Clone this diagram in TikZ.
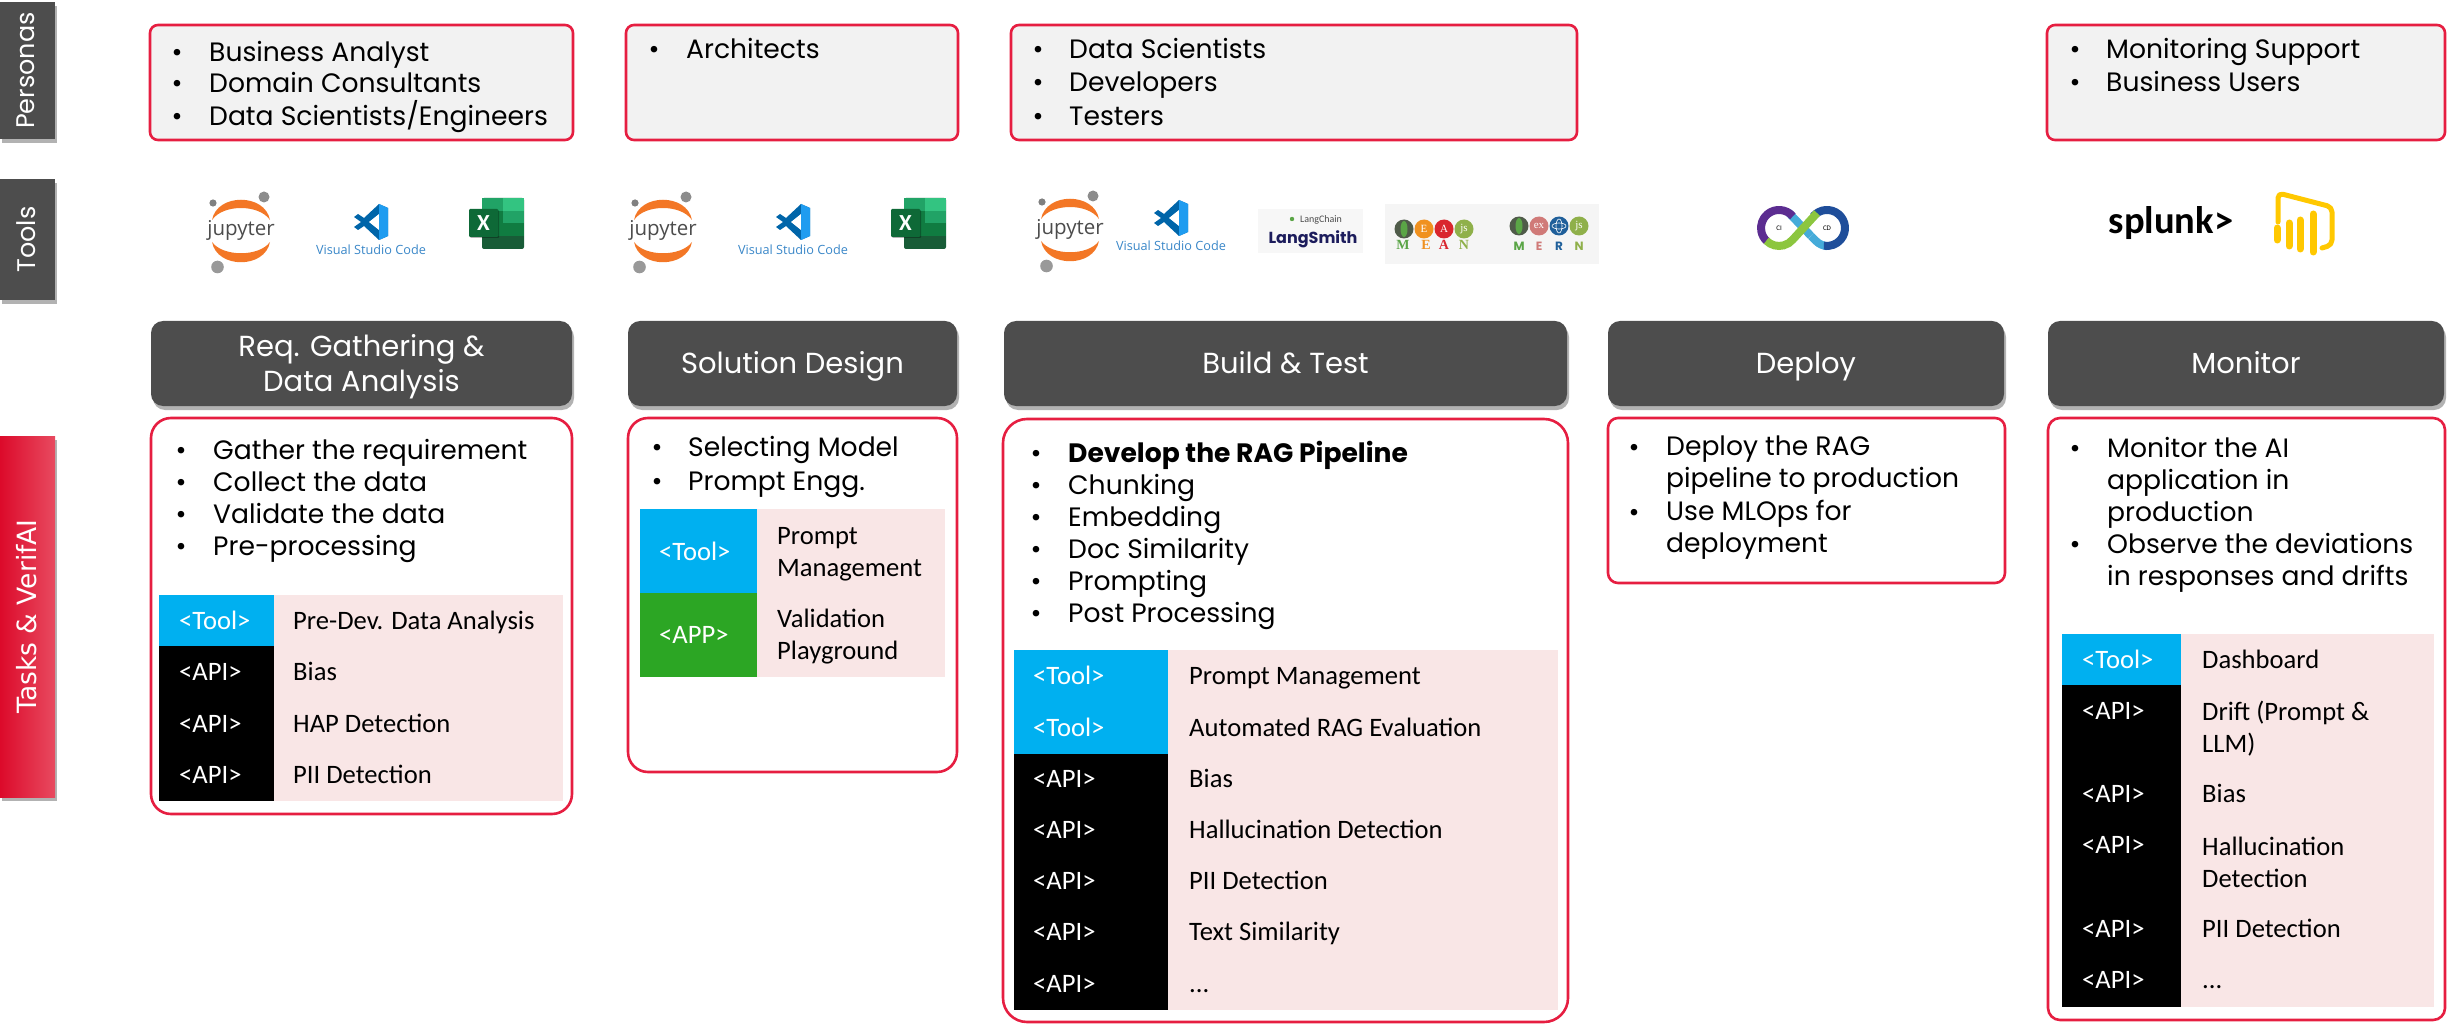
\documentclass[tikz,border=0pt]{standalone}
\usepackage{fontspec}
\setmainfont{Poppins}
\newfontfamily\tablefont{Carlito}
\newfontfamily\logofont{Open Sans}
\newfontfamily\meanfont{Liberation Serif}
\newfontfamily\tabfont{DejaVu Sans}
\usetikzlibrary{shadows}
\definecolor{tabgray}{HTML}{4D4D4D}
\definecolor{framered}{HTML}{E61E41}
\definecolor{tasktop}{HTML}{E84A60}
\definecolor{taskbottom}{HTML}{DC0A2A}
\definecolor{personafill}{HTML}{F2F2F2}
\definecolor{rowpink}{HTML}{F9E6E6}
\definecolor{toolblue}{HTML}{00B0F0}
\definecolor{appgreen}{HTML}{2CA624}
\definecolor{jupyorange}{HTML}{F37726}
\definecolor{biyellow}{HTML}{FFC800}
\definecolor{codedark}{HTML}{0065A9}
\definecolor{codelight}{HTML}{1F9CF0}
\definecolor{codetext}{HTML}{3A87C8}
\definecolor{xldark}{HTML}{185C37}
\definecolor{xlmid}{HTML}{107C41}
\definecolor{xlsoft}{HTML}{21A366}
\definecolor{xllight}{HTML}{33C481}
\definecolor{meanleaf}{HTML}{4F5B49}
\definecolor{leafgreen}{HTML}{5AA546}
\definecolor{meanorange}{HTML}{F0911F}
\definecolor{meanred}{HTML}{D9262E}
\definecolor{meanlime}{HTML}{8FB04A}
\definecolor{mernpink}{HTML}{D07A78}
\definecolor{mernblue}{HTML}{1F5F9A}
\definecolor{devpurple}{HTML}{5C2D91}
\definecolor{devnavy}{HTML}{1F4E9A}
\definecolor{devgreen}{HTML}{8CC63F}
\definecolor{devcyan}{HTML}{45ABD9}
\definecolor{smithnavy}{HTML}{1C1C5C}
\tikzset{
  softshadow/.style={drop shadow={shadow xshift=2pt, shadow yshift=-4pt, opacity=0.3, fill=black}},
  sidetab/.style={rotate=90, minimum height=55pt, inner sep=0pt, text=white, text depth=3pt, softshadow},
  headbox/.style={fill=tabgray, rounded corners=12pt, text=white, inner sep=0pt, minimum height=85pt, align=center,
    font=\fontsize{29}{35}\selectfont, softshadow},
  headline/.style={headbox, text height=26pt, text depth=7pt},
  personabox/.style={draw=framered, fill=personafill, line width=2.6pt, rounded corners=8pt},
  taskbox/.style={draw=framered, fill=white, line width=2.6pt},
  listdot/.style={inner sep=0pt, text height=24pt, text depth=6pt, font=\fontsize{26.6}{32}\selectfont},
  listtext/.style={anchor=west, inner sep=0pt, text height=24pt, text depth=6pt, font=\fontsize{26.6}{32}\selectfont},
  wraptext/.style={anchor=west, inner sep=0pt, align=left, yshift=-2.5pt, font=\fontsize{26.6}{32}\selectfont},
  rowlabel/.style={anchor=west, inner sep=0pt, text=white, text height=19pt, text depth=5pt, font=\tablefont\fontsize{26.6}{32}\selectfont},
  rowtext/.style={anchor=west, inner sep=0pt, text height=19pt, text depth=5pt, font=\tablefont\fontsize{26.6}{32}\selectfont},
  rowwrap/.style={anchor=west, inner sep=0pt, align=left, yshift=-1pt, font=\tablefont\fontsize{26.6}{32}\selectfont},
  pics/jupyterlogo/.style={code={
    \fill[jupyorange] (-29,-10) .. controls (-24,-37) and (24,-37) .. (29,-10) .. controls (18,-26) and (-18,-26) .. cycle;
    \fill[jupyorange] (-29,12) .. controls (-24,39) and (24,39) .. (29,12) .. controls (18,27) and (-18,27) .. cycle;
    \fill[gray!90] (23,-33) circle [radius=5.5];
    \fill[gray] (-28,-27) circle [radius=3.6];
    \fill[gray!80] (-23.5,37) circle [radius=6.3];
    \node[inner sep=0pt, text=black!70, font=\logofont\fontsize{20.5}{22}\selectfont] (txt) at (0,0) {jupyter};
  }},
  pics/vscodelogo/.style={code={
    \fill[codedark] (8,-18) -- (-7,-4) -- (-13,-8) -- (-17,-5) -- (-10,0) -- (-17,5) -- (-13,8) -- (-7,4) -- (8,18) -- (17,14) -- (17,-14) -- cycle;
    \fill[white] (8,-8) -- (-2,0) -- (8,8) -- cycle;
    \fill[codelight] (8,-18) -- (17,-14) -- (17,14) -- (8,18) -- (8,8) -- (8,-8) -- cycle;
    \node[inner sep=0pt, text=codetext, font=\logofont\fontsize{12.7}{13}\selectfont] (txt) at (0,28) {Visual Studio Code};
  }},
  pics/excellogo/.style={code={
    \fill[rounded corners=2pt, xldark] (13,0) rectangle (55,51);
    \fill[xlmid] (13,25) rectangle (55,38);
    \fill[xlsoft] (34,13) rectangle (55,25);
    \fill[xlmid] (13,13) rectangle (34,25);
    \fill[xlsoft] (13,0) rectangle (34,13);
    \fill[xllight] (34,0) rectangle (55,13);
    \fill[rounded corners=1pt, xlmid!85!black, drop shadow={shadow xshift=1pt, shadow yshift=-1pt, opacity=0.3, fill=black}] (0,11) rectangle (29,39);
    \node[inner sep=0pt, text=white, font=\tablefont\bfseries\fontsize{23}{23}\selectfont] (txt) at (14.5,25) {X};
  }},
  devband/.style={line width=8pt},
  pics/devopslogo/.style={code={
    % rings, left one first
    \draw[devband, devcyan] (-15,-16) -- (8,8);
    \draw[devband, devcyan] (8,8) -- (13,13) arc [start angle=135, end angle=95, radius=18];
    \draw[devband, devnavy] (10.2,-11.6) arc [start angle=-140, end angle=100, radius=18];
    \draw[devband, devpurple] (-10.2,-11.6) arc [start angle=-40, end angle=-228, radius=18];
    \draw[devband, devgreen] (-36.7,12.7) arc [start angle=135, end angle=40, radius=18] -- (14,-15);
    \node[inner sep=0pt, font=\tablefont\fontsize{7}{7}\selectfont] (ci) at (-24,0) {CI};
    \node[inner sep=0pt, font=\tablefont\fontsize{7}{7}\selectfont] (cd) at (24,0) {CD};
  }},
  pics/powerbilogo/.style={code={
    \draw[biyellow, line width=5pt, line cap=round, line join=round, rounded corners=5pt] (0,33) -- (0,4) -- (54,18) -- (54,56) -- (44,59);
    \foreach \xbar/\ytop/\ybot in {-1/36/54, 11/31/60, 22/28/63, 35/22/66} {
      \draw[biyellow, line width=7pt, line cap=round] (\xbar,\ytop+3) -- (\xbar,\ybot-3);
    }
  }}
}
\begin{document}
\begin{tikzpicture}[x=1pt, y=-1pt]
  \useasboundingbox (0,0) rectangle (2458,1024);
  % side tabs
  \node[sidetab, fill=tabgray, minimum width=137pt, font=\fontsize{25.5}{28}\selectfont] (personas) at (27.5,70.5) {Personas};
  \node[sidetab, fill=tabgray, minimum width=121pt, font=\fontsize{25.5}{28}\selectfont] (tools) at (27.5,239.5) {Tools};
  \node[sidetab, left color=taskbottom, right color=tasktop, minimum width=361pt, font=\tabfont\fontsize{26.5}{28}\selectfont] (tasks) at (27.5,616.5) {Tasks \& VerifAI};
  % personas row
  \draw[personabox] (150,25) rectangle (573,140);
  \draw[personabox] (626,25) rectangle (958,140);
  \draw[personabox] (1011,25) rectangle (1577,140);
  \draw[personabox] (2047,25) rectangle (2445,140);
  \foreach \i/\ypos/\txt in {1/53/Business Analyst, 2/84/Domain Consultants, 3/117/{Data Scientists/Engineers}} {
    \node[listdot] (pad\i) at (177,\ypos) {•};
    \node[listtext] (pat\i) at (209,\ypos) {\txt};
  }
  \node[listdot] (pbd1) at (654,50) {•};
  \node[listtext] (pbt1) at (686,50) {Architects};
  \foreach \i/\ypos/\txt in {1/50/Data Scientists, 2/83/Developers, 3/117/Testers} {
    \node[listdot] (pcd\i) at (1038,\ypos) {•};
    \node[listtext] (pct\i) at (1069,\ypos) {\txt};
  }
  \foreach \i/\ypos/\txt in {1/50/Monitoring Support, 2/83/Business Users} {
    \node[listdot] (ped\i) at (2075,\ypos) {•};
    \node[listtext] (pet\i) at (2106,\ypos) {\txt};
  }
  % tools row
  \pic (jupa) at (241,230) {jupyterlogo};
  \pic (vsa) at (371,222) {vscodelogo};
  \pic (xla) at (469,198) {excellogo};
  \pic (jupb) at (663,230) {jupyterlogo};
  \pic (vsb) at (793,222) {vscodelogo};
  \pic (xlb) at (891,198) {excellogo};
  \pic (jupc) at (1070,229) {jupyterlogo};
  \pic (vsc) at (1171,218) {vscodelogo};
  % langsmith
  \fill[black!3] (1258,209) rectangle (1363,253);
  \fill[leafgreen] (1292,219) circle [radius=2.2];
  \node[inner sep=0pt, text=black!70, font=\tablefont\fontsize{10}{10}\selectfont] (langchain) at (1321,220) {LangChain};
  \node[inner sep=0pt, text=smithnavy, font=\bfseries\fontsize{16}{16}\selectfont] (langsmith) at (1313,239) {LangSmith};
  % mean and mern
  \fill[black!4] (1385,204) rectangle (1599,264);
  \foreach \name/\xpos/\col/\lab in {ma/1404/meanleaf/{}, ea/1424/meanorange/E, aa/1444/meanred/A, na/1464/meanlime/{js}} {
    \node[circle, fill=\col, minimum size=19pt, inner sep=0pt, text=white, font=\meanfont\fontsize{11}{11}\selectfont] (\name) at (\xpos,229) {\lab};
  }
  \foreach \name/\xpos/\col/\lab in {mb/1519/meanleaf/{}, eb/1539/mernpink/{ex}, rb/1559/mernblue/{}, nb/1579/meanlime/{js}} {
    \node[circle, fill=\col, minimum size=19pt, inner sep=0pt, text=white, font=\meanfont\fontsize{11}{11}\selectfont] (\name) at (\xpos,226) {\lab};
  }
  \fill[leafgreen] (ma) ellipse [x radius=3.5, y radius=8];
  \fill[leafgreen] (mb) ellipse [x radius=3.5, y radius=8];
  \draw[white, line width=0.6pt] (rb) ellipse [x radius=7, y radius=3];
  \draw[white, line width=0.6pt] (rb) ellipse [x radius=3, y radius=7];
  \foreach \name/\xpos/\col/\lab in {lma/1403/leafgreen/M, lea/1426/meanorange/E, laa/1444/meanred/A, lna/1464/meanlime/N} {
    \node[inner sep=0pt, text=\col, font=\meanfont\bfseries\fontsize{14}{14}\selectfont] (\name) at (\xpos,245) {\lab};
  }
  \foreach \name/\xpos/\col/\lab in {lmb/1519/leafgreen/M, leb/1539/mernpink/E, lrb/1559/mernblue/R, lnb/1579/meanlime/N} {
    \node[inner sep=0pt, text=\col, font=\bfseries\fontsize{12}{12}\selectfont] (\name) at (\xpos,246) {\lab};
  }
  \pic (devops) at (1803,228) {devopslogo};
  \node[inner sep=0pt, font=\tablefont\bfseries\fontsize{38.5}{39}\selectfont] (splunk) at (2171,223) {splunk>};
  \pic (bi) at (2278,189) {powerbilogo};
  % phase headers
  \node[headbox, minimum width=421pt] (reqhead) at (361.5,363.5) {};
  \node[inner sep=0pt, text=white, align=center, font=\fontsize{29}{35}\selectfont] (reqtitle) at (361.5,367) {Req. Gathering \&\\Data Analysis};
  \node[headline, minimum width=329pt] (solhead) at (792.5,363.5) {Solution Design};
  \node[headline, minimum width=563pt] (buildhead) at (1285.5,363.5) {Build \& Test};
  \node[headline, minimum width=396pt] (dephead) at (1806,363.5) {Deploy};
  \node[headline, minimum width=396pt] (monhead) at (2246,363.5) {Monitor};
  % task frames
  \draw[taskbox, rounded corners=20pt] (151,418) rectangle (572,814);
  \draw[taskbox, rounded corners=20pt] (628,418) rectangle (957,772);
  \draw[taskbox, rounded corners=24pt] (1003,419) rectangle (1568,1022);
  \draw[taskbox, rounded corners=10pt] (1608,418) rectangle (2005,583);
  \draw[taskbox, rounded corners=12pt] (2048,418) rectangle (2445,1020);
  % req gathering
  \foreach \i/\ypos/\txt in {1/450/Gather the requirement, 2/482/Collect the data, 3/514/Validate the data, 4/546/Pre-processing} {
    \node[listdot] (rd\i) at (181,\ypos) {•};
    \node[listtext] (rt\i) at (213,\ypos) {\txt};
  }
  \fill[rowpink] (274,595) rectangle (563,801);
  \fill[toolblue] (159,595) rectangle (274,646);
  \fill[black] (159,646) rectangle (274,801);
  \node[rowlabel] (rl1) at (179,622) {<Tool>};
  \node[rowtext] (rr1) at (293,622) {Pre-Dev. Data Analysis};
  \foreach \i/\ypos/\txt in {2/673/Bias, 3/725/HAP Detection, 4/776/PII Detection} {
    \node[rowlabel] (rl\i) at (179,\ypos) {<API>};
    \node[rowtext] (rr\i) at (293,\ypos) {\txt};
  }
  % solution design
  \foreach \i/\ypos/\txt in {1/447/Selecting Model, 2/481/Prompt Engg.} {
    \node[listdot] (sd\i) at (657,\ypos) {•};
    \node[listtext] (st\i) at (688,\ypos) {\txt};
  }
  \fill[rowpink] (757,509) rectangle (945,677);
  \fill[toolblue] (640,509) rectangle (757,593);
  \fill[appgreen] (640,593) rectangle (757,677);
  \node[rowlabel] (sl1) at (659,553) {<Tool>};
  \node[rowwrap] (sr1) at (777,553) {Prompt\\Management};
  \node[rowlabel] (sl2) at (659,636) {<APP>};
  \node[rowwrap] (sr2) at (777,636) {Validation\\Playground};
  % build and test
  \node[listdot] (bd1) at (1036,453) {•};
  \node[listtext] (bt1) at (1068,453) {\bfseries Develop the RAG Pipeline};
  \foreach \i/\ypos/\txt in {2/485/Chunking, 3/517/Embedding, 4/549/Doc Similarity, 5/581/Prompting, 6/613/Post Processing} {
    \node[listdot] (bd\i) at (1036,\ypos) {•};
    \node[listtext] (bt\i) at (1068,\ypos) {\txt};
  }
  \fill[rowpink] (1168,650) rectangle (1558,1010);
  \fill[toolblue] (1014,650) rectangle (1168,754);
  \fill[black] (1014,754) rectangle (1168,1010);
  \foreach \i/\ypos/\txt in {1/677/Prompt Management, 2/729/Automated RAG Evaluation} {
    \node[rowlabel] (bl\i) at (1033,\ypos) {<Tool>};
    \node[rowtext] (br\i) at (1189,\ypos) {\txt};
  }
  \foreach \i/\ypos/\txt in {3/780/Bias, 4/831/Hallucination Detection, 5/882/PII Detection, 6/933/Text Similarity} {
    \node[rowlabel] (bl\i) at (1033,\ypos) {<API>};
    \node[rowtext] (br\i) at (1189,\ypos) {\txt};
  }
  \node[rowlabel] (bl7) at (1033,985) {<API>};
  \node[rowtext] (br7) at (1189,985) {...};
  % deploy
  \node[listdot] (dd1) at (1634,447) {•};
  \node[wraptext] (dt1) at (1666,463) {Deploy the RAG\\pipeline to production};
  \node[listdot] (dd2) at (1634,512) {•};
  \node[wraptext] (dt2) at (1666,527.5) {Use MLOps for\\deployment};
  % monitor
  \node[listdot] (md1) at (2075,448) {•};
  \node[wraptext] (mt1) at (2107,480) {Monitor the AI\\application in\\production};
  \node[listdot] (md2) at (2075,544) {•};
  \node[wraptext] (mt2) at (2107,560) {Observe the deviations\\in responses and drifts};
  \fill[rowpink] (2181,634) rectangle (2434,1007);
  \fill[toolblue] (2062,634) rectangle (2181,685);
  \fill[black] (2062,685) rectangle (2181,1007);
  \node[rowlabel] (ml1) at (2082,661) {<Tool>};
  \node[rowtext] (mr1) at (2202,661) {Dashboard};
  \node[rowlabel] (ml2) at (2082,712) {<API>};
  \node[rowwrap] (mr2) at (2202,728) {Drift (Prompt \&\\LLM)};
  \node[rowlabel] (ml3) at (2082,795) {<API>};
  \node[rowtext] (mr3) at (2202,795) {Bias};
  \node[rowlabel] (ml4) at (2082,846) {<API>};
  \node[rowwrap] (mr4) at (2202,861) {Hallucination\\Detection};
  \node[rowlabel] (ml5) at (2082,930) {<API>};
  \node[rowtext] (mr5) at (2202,930) {PII Detection};
  \node[rowlabel] (ml6) at (2082,981) {<API>};
  \node[rowtext] (mr6) at (2202,981) {...};
\end{tikzpicture}
\end{document}
